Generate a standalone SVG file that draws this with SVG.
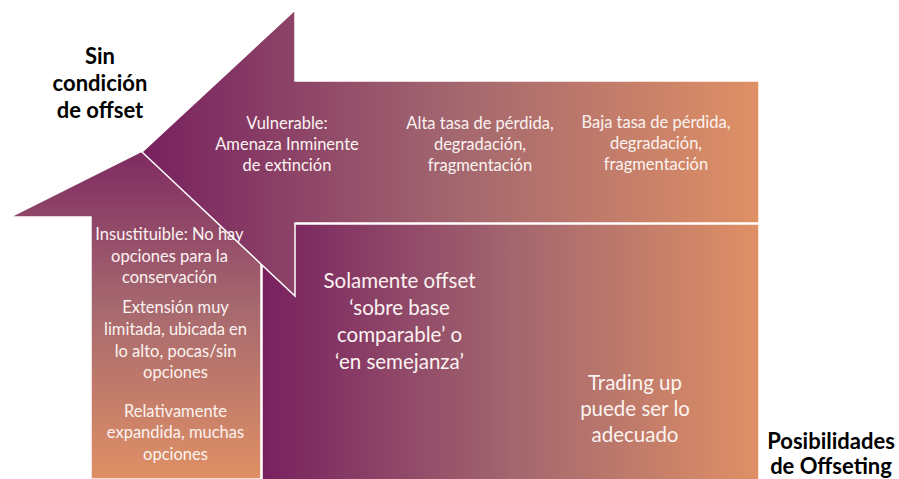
<svg xmlns="http://www.w3.org/2000/svg" width="899" height="479" viewBox="0 0 899 479">
  <defs>
    <linearGradient id="gTop" gradientUnits="userSpaceOnUse" x1="142" y1="0" x2="759" y2="0">
      <stop offset="0" stop-color="#78215f"/>
      <stop offset="0.5" stop-color="#a2666f"/>
      <stop offset="1" stop-color="#df9065"/>
    </linearGradient>
    <linearGradient id="gCenter" gradientUnits="userSpaceOnUse" x1="262" y1="0" x2="759" y2="0">
      <stop offset="0" stop-color="#78215f"/>
      <stop offset="0.5" stop-color="#a2666f"/>
      <stop offset="1" stop-color="#df9065"/>
    </linearGradient>
    <linearGradient id="gVert" gradientUnits="userSpaceOnUse" x1="0" y1="134" x2="0" y2="479">
      <stop offset="0" stop-color="#7a2460"/>
      <stop offset="0.5" stop-color="#a6686f"/>
      <stop offset="1" stop-color="#df9065"/>
    </linearGradient>
  </defs>
  <style>
    .shape { stroke: #ffffff; stroke-width: 1.5; stroke-linejoin: miter; }
    .t { font-family: Lato, "Open Sans", sans-serif; font-size: 16.5px; fill: #fbf3f1; text-anchor: middle; }
    .tb { font-family: Lato, "Open Sans", sans-serif; font-size: 20.5px; fill: #fbf3f1; text-anchor: middle; }
    .lbl { font-family: Lato, "Open Sans", sans-serif; font-size: 22px; font-weight: bold; fill: #000000; text-anchor: middle; }
  </style>

  <g id="vertical-arrow">
    <polygon class="shape" fill="url(#gVert)" points="91,479 91,217 10,217 176,134 342,217 261,217 261,479"/>
  </g>

  <g id="center-block">
    <rect class="shape" fill="url(#gCenter)" x="262" y="224" width="497" height="260"/>
  </g>

  <g id="top-arrow">
    <polygon class="shape" fill="url(#gTop)" points="759,81 295,81 295,10 142,152 295,296 295,223 759,223 759,81"/>
  </g>

  <g id="connectors"/>

  <g id="top-texts">
    <text class="t" x="287" y="129">Vulnerable:</text>
    <text class="t" x="287" y="150">Amenaza Inminente</text>
    <text class="t" x="287" y="171">de extinción</text>
    <text class="t" x="480" y="129">Alta tasa de pérdida,</text>
    <text class="t" x="480" y="150">degradación,</text>
    <text class="t" x="480" y="171">fragmentación</text>
    <text class="t" x="656" y="128">Baja tasa de pérdida,</text>
    <text class="t" x="656" y="149">degradación,</text>
    <text class="t" x="656" y="170">fragmentación</text>
  </g>

  <g id="left-texts">
    <text class="t" x="169.5" y="240">Insustituible: No hay</text>
    <text class="t" x="169.5" y="262">opciones para la</text>
    <text class="t" x="169.5" y="283">conservación</text>
    <text class="t" x="175.5" y="313">Extensión muy</text>
    <text class="t" x="175.5" y="335">limitada, ubicada en</text>
    <text class="t" x="175.5" y="357">lo alto, pocas/sin</text>
    <text class="t" x="175.5" y="378">opciones</text>
    <text class="t" x="175.5" y="417">Relativamente</text>
    <text class="t" x="175.5" y="438">expandida, muchas</text>
    <text class="t" x="175.5" y="460">opciones</text>
  </g>

  <g id="center-texts">
    <text class="tb" x="399.5" y="288">Solamente offset</text>
    <text class="tb" x="399.5" y="315">‘sobre base</text>
    <text class="tb" x="399.5" y="342">comparable’ o</text>
    <text class="tb" x="399.5" y="369">‘en semejanza’</text>
    <text class="tb" x="635" y="390">Trading up</text>
    <text class="tb" x="635" y="416">puede ser lo</text>
    <text class="tb" x="635" y="442">adecuado</text>
  </g>

  <g id="axis-label-top">
    <text class="lbl" x="100" y="64">Sin</text>
    <text class="lbl" x="100" y="91">condición</text>
    <text class="lbl" x="100" y="118">de offset</text>
  </g>

  <g id="axis-label-right">
    <text class="lbl" x="831" y="449">Posibilidades</text>
    <text class="lbl" x="831" y="473.5">de Offseting</text>
  </g>
</svg>
